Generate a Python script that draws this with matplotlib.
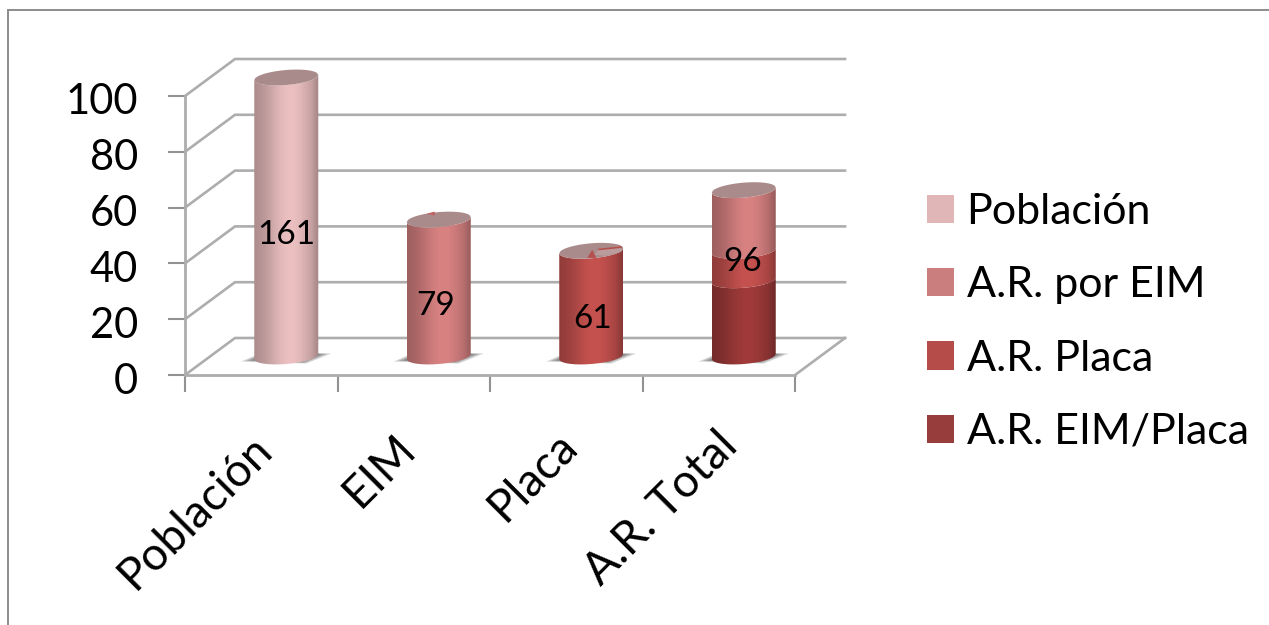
import numpy as np
import matplotlib
matplotlib.use("Agg")
import matplotlib.pyplot as plt
from matplotlib.lines import Line2D
from matplotlib.patches import Patch, Polygon
from matplotlib.colors import to_rgb
from matplotlib.transforms import ScaledTranslation

plt.rcParams["font.family"] = ["Lato", "DejaVu Sans"]

# Chart data: patient counts; the axis shows them as a share of the population
categories = ["Población", "EIM", "Placa", "A.R. Total"]
total_population = 161
poblacion = [161, 0, 0, 0]
ar_eim_placa = [0, 0, 0, 44]
ar_placa = [0, 0, 61, 17]
ar_por_eim = [0, 79, 0, 35]
bar_labels = ["161", "79", "61", "96"]
label_heights = [70, 29, 21.5, 54.5]
label_shifts = [0, -3, 1, -1]
percent_ticks = [0, 20, 40, 60, 80, 100]
category_label_nudges = [(-11, -8), (-20, -7), (-11, -5), (-3, -5)]

W, H = 1269, 625
fig = plt.figure(figsize=(W / 100, H / 100), dpi=100, facecolor="white")
ax = fig.add_axes([185 / W, 1 - 375 / H, 610 / W, 279 / H])
ax.set_xlim(0, len(categories))
ax.set_ylim(0, total_population)
ax.set_autoscale_on(False)
ax.patch.set_visible(False)

# Size of one pixel in data units, used for the oblique projection
ux = len(categories) / 610
uy = total_population / 279
depth_x, depth_y = 50 * ux, 37 * uy

WALL_GREY = "#adadad"
TICK_GREY = "#929292"
for side in ("top", "right"):
    ax.spines[side].set_visible(False)
for side in ("left", "bottom"):
    ax.spines[side].set_color(WALL_GREY)
    ax.spines[side].set_linewidth(2.0)

# Ticks
tick_pos = [p * total_population / 100 for p in percent_ticks]
ax.set_yticks(tick_pos)
ax.set_yticklabels([str(p) for p in percent_ticks], fontsize=30)
ax.tick_params(axis="y", length=12, width=1.5, color=TICK_GREY, pad=22)
ax.set_xticks(range(len(categories) + 1))
ax.set_xticklabels([""] * (len(categories) + 1))
ax.tick_params(axis="x", which="major", length=12, width=1.5, color=TICK_GREY)
ax.set_xticks(np.arange(len(categories)) + 0.5, minor=True)
ax.set_xticklabels(categories, minor=True, fontsize=33, rotation=45,
                   ha="right", va="top", rotation_mode="anchor")
ax.tick_params(axis="x", which="minor", length=0, pad=32)

# Nudge tick labels by whole pixels
for label in ax.get_yticklabels():
    label.set_transform(label.get_transform() + ScaledTranslation(0, -3 / 100, fig.dpi_scale_trans))
for label, (dx, dy) in zip(ax.get_xticklabels(minor=True), category_label_nudges):
    label.set_transform(label.get_transform() + ScaledTranslation(dx / 100, dy / 100, fig.dpi_scale_trans))

# Side wall, back wall and floor edges
n = len(categories)
for y in tick_pos:
    ax.plot([0, depth_x, n + depth_x], [y, y + depth_y, y + depth_y],
            color=WALL_GREY, lw=1.9, clip_on=False, zorder=1, solid_joinstyle="miter")
ax.plot([n, n + depth_x], [0, depth_y], color=WALL_GREY, lw=1.9, clip_on=False, zorder=1)

# Cylinder geometry in pixels
RX, RY, TILT = 32, 7.5, 0.08


def arc(cx, y, front=True, steps=60):
    """Half of a tilted ellipse, running left to right."""
    t = np.linspace(-1, 1, steps)
    sign = -1 if front else 1
    xs = cx + t * RX * ux
    ys = y + (sign * RY * np.sqrt(1 - t ** 2) + TILT * t * RX) * uy
    return np.column_stack([xs, ys])


def shaded(color):
    """Horizontal light profile of a lit cylinder."""
    t = np.linspace(0, 1, 80)
    light = 0.70 + 0.30 * np.exp(-((t - 0.56) / 0.38) ** 2)
    light = light - 0.08 * np.clip((t - 0.88) / 0.12, 0, 1)
    rgb = np.outer(light, to_rgb(color))
    return rgb[np.newaxis, :, :]


def cylinder_part(cx, y0, y1, color, z):
    outline = np.vstack([arc(cx, y1), arc(cx, y0)[::-1]])
    clip = Polygon(outline, closed=True, transform=ax.transData,
                   facecolor="none", edgecolor="none")
    ax.add_patch(clip)
    clip.set_clip_on(False)
    image = ax.imshow(shaded(color), extent=[cx - RX * ux, cx + RX * ux, min(y0, y1) - 20 * uy,
                                             max(y0, y1) + 20 * uy],
                      aspect="auto", interpolation="bilinear", zorder=z)
    image.set_clip_path(clip)
    image.set_clip_box(fig.bbox)


def base_shadow(cx):
    corners = np.array([[-45, -5], [-22, 5], [45, 3], [20, -7]], dtype=float)
    for scale, alpha in ((1.0, 0.25), (0.9, 0.3), (0.8, 0.35)):
        ax.add_patch(Polygon(np.column_stack([cx + corners[:, 0] * scale * ux,
                                              depth_y / 2 + corners[:, 1] * scale * uy]),
                             closed=True, facecolor="#4d4d4d", edgecolor="none",
                             alpha=alpha, clip_on=False, zorder=2))


def cap_detail(cx, level, points, color):
    """Small flecks where the cap of a cylinder shows the colour underneath."""
    pts = np.array(points, dtype=float)
    ax.add_patch(Polygon(np.column_stack([cx + pts[:, 0] * ux, level + pts[:, 1] * uy]),
                         closed=True, facecolor=color, edgecolor="none",
                         clip_on=False, zorder=4.5))


series = [
    (poblacion, "#ecc0c1"),
    (ar_eim_placa, "#a03b3a"),
    (ar_placa, "#c6524f"),
    (ar_por_eim, "#d98282"),
]

for i in range(n):
    cx = i + 0.5 + depth_x / 2
    base_shadow(cx)
    level = depth_y / 2
    for values, color in series:
        if values[i] > 0:
            cylinder_part(cx, level, level + values[i], color, 3)
            level += values[i]
    ellipse = np.vstack([arc(cx, level, True), arc(cx, level, False)[::-1]])
    ax.add_patch(Polygon(ellipse, closed=True, facecolor="#aa8b8b", edgecolor="none",
                         clip_on=False, zorder=4))
    if categories[i] == "EIM":
        cap_detail(cx, level, [(-12, 6), (-4, 8), (-4, 4)], "#c2605f")
    if categories[i] == "Placa":
        cap_detail(cx, level, [(3, -4), (8, 2), (30, 3), (30, -1), (15, -5)], "#bb9c9c")
        cap_detail(cx, level, [(-4, -7), (1, 1), (5, -7)], "#b5504d")
        cap_detail(cx, level, [(6, 2), (30, 4.5), (31, 3), (8, 0.5)], "#b5504d")
    ax.text(cx + label_shifts[i] * ux, depth_y / 2 + label_heights[i], bar_labels[i],
            ha="center", va="center", fontsize=24, color="black", zorder=5)

# Legend
legend_labels = ["Población", "A.R. por EIM", "A.R. Placa", "A.R. EIM/Placa"]
legend_colors = ["#e1b6b6", "#ca7f7e", "#b64c49", "#973d3b"]
handles = [Patch(facecolor=c, edgecolor="none") for c in legend_colors]
fig.legend(handles, legend_labels, loc="upper left", bbox_to_anchor=(927 / W, 1 - 193 / H),
           frameon=False, fontsize=31, handlelength=0.63, handleheight=0.63,
           handletextpad=0.29, labelspacing=0.82, borderpad=0, borderaxespad=0)

# Chart frame
frame = dict(color="#8c8c8c", lw=1.4, transform=fig.transFigure)
fig.add_artist(Line2D([8 / W, 1], [1 - 9.5 / H, 1 - 9.5 / H], **frame))
fig.add_artist(Line2D([8 / W, 8 / W], [1 - 9.5 / H, 0], **frame))

fig.savefig("out.png", dpi=100)
